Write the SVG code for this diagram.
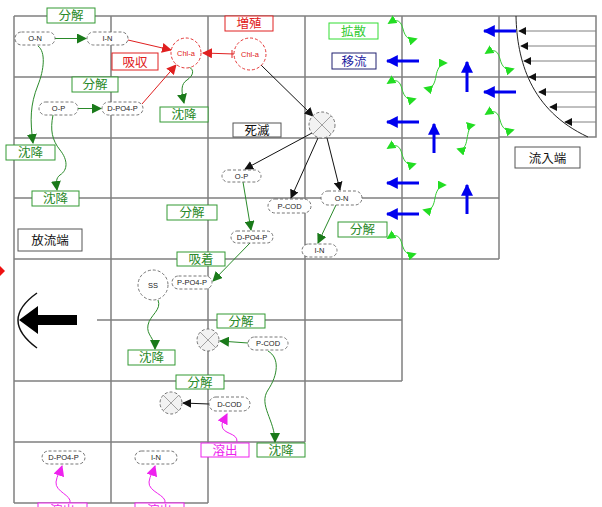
<svg xmlns="http://www.w3.org/2000/svg" width="602" height="507" viewBox="0 0 602 507">
<style>
.grid{stroke:#808080;stroke-width:1.5;fill:none}
.lb{fill:#fff;stroke-width:1}
.lt{font-family:"Noto Sans CJK JP","Noto Sans CJK SC",sans-serif;font-size:12.5px;text-anchor:middle}
.g rect.lb{stroke:#339933}.g text{fill:#2a8a2a}
.r rect.lb{stroke:#e02020}.r text{fill:#e02020}
.k rect.lb{stroke:#555}.k text{fill:#111}
.bg rect.lb{stroke:#33dd33}.bg text{fill:#33cc33}
.bl rect.lb{stroke:#202070}.bl text{fill:#2020a0}
.m rect.lb{stroke:#ee22ee}.m text{fill:#ee22ee}
.nd rect,.nd circle{fill:#fff;stroke:#666;stroke-width:0.9;stroke-dasharray:3,2}
.nt{font-family:"Liberation Sans",Arial,sans-serif;font-size:7.5px;text-anchor:middle;fill:#222}
.red circle{stroke:#e02020}.red .nt{fill:#e02020}
.cg{stroke:#2a8a2a;stroke-width:1;fill:none;marker-end:url(#ag)}
.cr{stroke:#e02020;stroke-width:1;fill:none;marker-end:url(#ar)}
.ck{stroke:#111;stroke-width:1;fill:none;marker-end:url(#ak)}
.cm{stroke:#ee22ee;stroke-width:1;fill:none;marker-end:url(#am)}
.df{stroke:#33cc33;stroke-width:1;fill:none;marker-start:url(#dh);marker-end:url(#dh)}
.bu{stroke:#0000ee;stroke-width:3;fill:none;marker-end:url(#ab)}
.pf{stroke:#808080;stroke-width:1;fill:none;marker-end:url(#ap)}
</style>
<defs>
<marker id="ag" viewBox="0 0 10 10" refX="9" refY="5" markerWidth="10" markerHeight="10" markerUnits="userSpaceOnUse" orient="auto"><path d="M0,0 L10,5 L0,10 z" fill="#1a7a1a"/></marker>
<marker id="ar" viewBox="0 0 10 10" refX="9" refY="5" markerWidth="10" markerHeight="10" markerUnits="userSpaceOnUse" orient="auto"><path d="M0,0 L10,5 L0,10 z" fill="#e02020"/></marker>
<marker id="ak" viewBox="0 0 10 10" refX="9" refY="5" markerWidth="9" markerHeight="9" markerUnits="userSpaceOnUse" orient="auto"><path d="M0,0 L10,5 L0,10 z" fill="#111"/></marker>
<marker id="am" viewBox="0 0 10 10" refX="9" refY="5" markerWidth="11" markerHeight="11" markerUnits="userSpaceOnUse" orient="auto"><path d="M0,0 L10,5 L0,10 z" fill="#ee22ee"/></marker>
<marker id="dh" viewBox="0 0 10 10" refX="8" refY="5" markerWidth="9" markerHeight="9" markerUnits="userSpaceOnUse" orient="auto-start-reverse"><path d="M0,0 L10,5 L0,10 z" fill="#22dd22"/></marker>
<marker id="ab" viewBox="0 0 10 10" refX="9" refY="5" markerWidth="12" markerHeight="12" markerUnits="userSpaceOnUse" orient="auto"><path d="M0,0 L10,5 L0,10 z" fill="#0000ee"/></marker>
<marker id="ap" viewBox="0 0 10 10" refX="9" refY="5" markerWidth="8" markerHeight="8" markerUnits="userSpaceOnUse" orient="auto"><path d="M0,0 L10,5 L0,10 z" fill="#111"/></marker>
</defs>
<rect width="602" height="507" fill="#fff"/>

<g id="grid" class="grid">
<path d="M14,16 H499 M14,77 H596 M14,138 H499 M14,198 H499 M14,259 H499 M97,320 H402 M14,381 H402 M14,442 H305 M14,503 H208"/>
<path d="M14,16 V503 M111,16 V503 M208,16 V503 M305,16 V442 M402,16 V381 M499,16 V259"/>
<path d="M499,16 H596 V137 H499"/>
</g>

<g id="profile">
<path d="M516,16 C517,60 530,110 588,137" stroke="#222" stroke-width="1" fill="none"/>
<path class="pf" d="M596,31 H519"/>
<path class="pf" d="M596,46 H521"/>
<path class="pf" d="M596,61 H524"/>
<path class="pf" d="M596,77 H529"/>
<path class="pf" d="M596,92 H539"/>
<path class="pf" d="M596,107 H550"/>
<path class="pf" d="M596,122 H565"/>
</g>

<g id="advection">
<path class="bu" d="M516,31 H484"/>
<path class="bu" d="M516,92 H484"/>
<path class="bu" d="M419,61 H387"/>
<path class="bu" d="M419,122 H387"/>
<path class="bu" d="M419,183 H387"/>
<path class="bu" d="M419,214 H387"/>
<path class="bu" d="M467,92 V62"/>
<path class="bu" d="M434,153 V124"/>
<path class="bu" d="M467,214 V185"/>
</g>

<g id="diffusion">
<path class="df" d="M389,23 c8,-5 12,-2 14,6 s6,12 13,10"/>
<path class="df" d="M388,83 c8,-5 12,-2 14,6 s6,12 13,10"/>
<path class="df" d="M486,53 c8,-5 12,-2 14,6 s6,12 13,10"/>
<path class="df" d="M486,114 c8,-5 12,-2 14,6 s6,12 13,10"/>
<path class="df" d="M388,148 c8,-5 12,-2 14,6 s6,12 13,10"/>
<path class="df" d="M388,238 c8,-5 12,-2 14,6 s6,12 13,10"/>
<path class="df" d="M425,88 c8,2 10,-6 11,-12 s4,-13 10,-13"/>
<path class="df" d="M424,210 c8,2 10,-6 11,-12 s4,-13 10,-13"/>
<path class="df" d="M458,149 c6,2 8,-4 9,-10 s2,-13 7,-14"/>
</g>

<g id="connectors">
<path class="cg" d="M55,38.5 L86,38.5"/>
<path class="cg" d="M78,108.5 L101,108.5"/>
<path class="cr" d="M128,40 L171,50"/>
<path class="cr" d="M142,104 L176,65"/>
<path class="cr" d="M234,54 L203,53"/>
<path d="M232,50 V58" stroke="#e02020" stroke-width="1"/>
<path class="cg" d="M189,67 c6,3 4,9 -2,13 s-6,10 -3,23"/>
<path class="cg" d="M38,46 C46,52 44,70 38,85 C30,105 30,120 33,143"/>
<path class="cg" d="M53,115 C50,130 52,140 60,150 C68,160 68,170 60,175 C56,178 56,182 57,190"/>
<path class="ck" d="M261,65 L313,116"/>
<path class="ck" d="M312,133 L245,169"/>
<path class="ck" d="M318,138 L291,198"/>
<path class="ck" d="M327,138 L340,190"/>
<path class="cg" d="M243,182 L251,230"/>
<path class="cg" d="M336,205 L318,243"/>
<path class="cg" d="M250,243 L213,281"/>
<path class="cg" d="M158,300 C162,310 150,315 148,325 C146,335 155,338 155,349"/>
<path class="cg" d="M248,343 L220,341"/>
<path class="cg" d="M268,351 C280,358 278,375 268,390 C258,405 275,420 275,442"/>
<path class="ck" d="M209,404 L183,403"/>
<path class="cm" d="M237,442 C238,432 222,435 222,425 C222,420 225,418 227,414"/>
<path class="cm" d="M70,503 C72,495 55,492 56,482 C57,475 60,472 62,466"/>
<path class="cm" d="M165,503 C167,495 148,492 149,482 C150,475 153,472 155,466"/>
</g>

<g id="outflow-arrow">
<path d="M37,293 Q-1,320 37,348" stroke="#111" stroke-width="1.5" fill="none"/>
<polygon points="77,315 38,315 38,306 19,320 38,334 38,325 77,325" fill="#000"/>
<polygon points="0,266 5,271 0,276" fill="#ee1111"/>
</g>

<g id="n-on1" class="nd"><rect x="15" y="32" width="40" height="13" rx="6.5"/><text class="nt" x="35" y="41.2">O-N</text></g>
<g id="n-in1" class="nd"><rect x="87" y="32" width="41" height="13" rx="6.5"/><text class="nt" x="107.5" y="41.2">I-N</text></g>
<g id="n-op1" class="nd"><rect x="39" y="102" width="39" height="13" rx="6.5"/><text class="nt" x="58.5" y="111.2">O-P</text></g>
<g id="n-dpo4p1" class="nd"><rect x="102" y="102" width="41" height="13" rx="6.5"/><text class="nt" x="122.5" y="111.2">D-PO4-P</text></g>
<g id="n-chla1" class="nd red"><circle cx="186" cy="53" r="15"/><text class="nt" x="186" y="55.5">Chl-a</text></g>
<g id="n-chla2" class="nd red"><circle cx="250" cy="54" r="16"/><text class="nt" x="250" y="56.5">Chl-a</text></g>
<g id="n-x1" class="nd"><circle cx="322" cy="125" r="13" style="fill:#f2f2f2"/><path d="M313,116 L331,134 M331,116 L313,134" stroke="#999" stroke-width="0.9"/></g>
<g id="n-op2" class="nd"><rect x="222" y="170" width="39" height="12" rx="6"/><text class="nt" x="241.5" y="178.7">O-P</text></g>
<g id="n-pcod1" class="nd"><rect x="268" y="199" width="43" height="14" rx="7"/><text class="nt" x="289.5" y="208.7">P-COD</text></g>
<g id="n-on2" class="nd"><rect x="321" y="191" width="41" height="14" rx="7"/><text class="nt" x="341.5" y="200.7">O-N</text></g>
<g id="n-dpo4p2" class="nd"><rect x="231" y="231" width="42" height="12" rx="6"/><text class="nt" x="252" y="239.7">D-PO4-P</text></g>
<g id="n-in2" class="nd"><rect x="302" y="244" width="35" height="13" rx="6.5"/><text class="nt" x="319.5" y="253.2">I-N</text></g>
<g id="n-ss" class="nd"><circle cx="153" cy="285" r="15"/><text class="nt" x="153" y="287.5">SS</text></g>
<g id="n-ppo4p" class="nd"><rect x="172" y="276" width="40" height="13" rx="6.5"/><text class="nt" x="192" y="285.2">P-PO4-P</text></g>
<g id="n-x2" class="nd"><circle cx="208" cy="340" r="11" style="fill:#f2f2f2"/><path d="M200,332 L216,348 M216,332 L200,348" stroke="#999" stroke-width="0.9"/></g>
<g id="n-pcod2" class="nd"><rect x="248" y="337" width="40" height="13" rx="6.5"/><text class="nt" x="268" y="346.2">P-COD</text></g>
<g id="n-x3" class="nd"><circle cx="171" cy="403" r="11" style="fill:#f2f2f2"/><path d="M163,395 L179,411 M179,395 L163,411" stroke="#999" stroke-width="0.9"/></g>
<g id="n-dcod" class="nd"><rect x="209" y="397" width="41" height="14" rx="7"/><text class="nt" x="229.5" y="406.7">D-COD</text></g>
<g id="n-dpo4p3" class="nd"><rect x="42" y="451" width="43" height="13" rx="6.5"/><text class="nt" x="63.5" y="460.2">D-PO4-P</text></g>
<g id="n-in3" class="nd"><rect x="135" y="451" width="42" height="13" rx="6.5"/><text class="nt" x="156" y="460.2">I-N</text></g>

<g id="l-bunkai1" class="g"><rect class="lb" x="47" y="8" width="48" height="15"/><text class="lt" x="71" y="20">分解</text></g>
<g id="l-kyushu" class="r"><rect class="lb" x="112" y="53" width="46" height="17"/><text class="lt" x="135" y="66.5">吸収</text></g>
<g id="l-bunkai2" class="g"><rect class="lb" x="72" y="77" width="46" height="15"/><text class="lt" x="95" y="89">分解</text></g>
<g id="l-chinko1" class="g"><rect class="lb" x="160" y="107" width="48" height="15"/><text class="lt" x="184" y="119">沈降</text></g>
<g id="l-zoshoku" class="r"><rect class="lb" x="225" y="16" width="48" height="15"/><text class="lt" x="249" y="28">増殖</text></g>
<g id="l-shimetsu" class="k"><rect class="lb" x="233" y="123" width="48" height="14"/><text class="lt" x="257" y="134.5">死滅</text></g>
<g id="l-kakusan" class="bg"><rect class="lb" x="329" y="23" width="49" height="16"/><text class="lt" x="353.5" y="35.5">拡散</text></g>
<g id="l-iryu" class="bl"><rect class="lb" x="332" y="53" width="44" height="16"/><text class="lt" x="354" y="65.5">移流</text></g>
<g id="l-inflow" class="k"><rect class="lb" x="515" y="147" width="65" height="21"/><text class="lt" x="547.5" y="162.5">流入端</text></g>
<g id="l-chinko2" class="g"><rect class="lb" x="6" y="145" width="49" height="15"/><text class="lt" x="30.5" y="157">沈降</text></g>
<g id="l-chinko3" class="g"><rect class="lb" x="32" y="191" width="47" height="15"/><text class="lt" x="55.5" y="203">沈降</text></g>
<g id="l-outflow" class="k"><rect class="lb" x="18" y="229" width="64" height="22"/><text class="lt" x="50" y="245">放流端</text></g>
<g id="l-bunkai3" class="g"><rect class="lb" x="167" y="205" width="50" height="15"/><text class="lt" x="192" y="217">分解</text></g>
<g id="l-bunkai4" class="g"><rect class="lb" x="338" y="222" width="49" height="15"/><text class="lt" x="362.5" y="234">分解</text></g>
<g id="l-kyuchaku" class="g"><rect class="lb" x="177" y="252" width="48" height="14"/><text class="lt" x="201" y="263.5">吸着</text></g>
<g id="l-bunkai5" class="g"><rect class="lb" x="217" y="314" width="48" height="14"/><text class="lt" x="241" y="325.5">分解</text></g>
<g id="l-chinko4" class="g"><rect class="lb" x="128" y="350" width="47" height="15"/><text class="lt" x="151.5" y="362">沈降</text></g>
<g id="l-bunkai6" class="g"><rect class="lb" x="176" y="375" width="48" height="14"/><text class="lt" x="200" y="386.5">分解</text></g>
<g id="l-yoshutsu1" class="m"><rect class="lb" x="201" y="443" width="48" height="14"/><text class="lt" x="225" y="454.5">溶出</text></g>
<g id="l-chinko5" class="g"><rect class="lb" x="257" y="443" width="48" height="14"/><text class="lt" x="281" y="454.5">沈降</text></g>
<g id="l-yoshutsu2" class="m"><rect class="lb" x="38" y="503" width="49" height="14"/><text class="lt" x="62.5" y="514.5">溶出</text></g>
<g id="l-yoshutsu3" class="m"><rect class="lb" x="135" y="503" width="49" height="14"/><text class="lt" x="159.5" y="514.5">溶出</text></g>
</svg>
